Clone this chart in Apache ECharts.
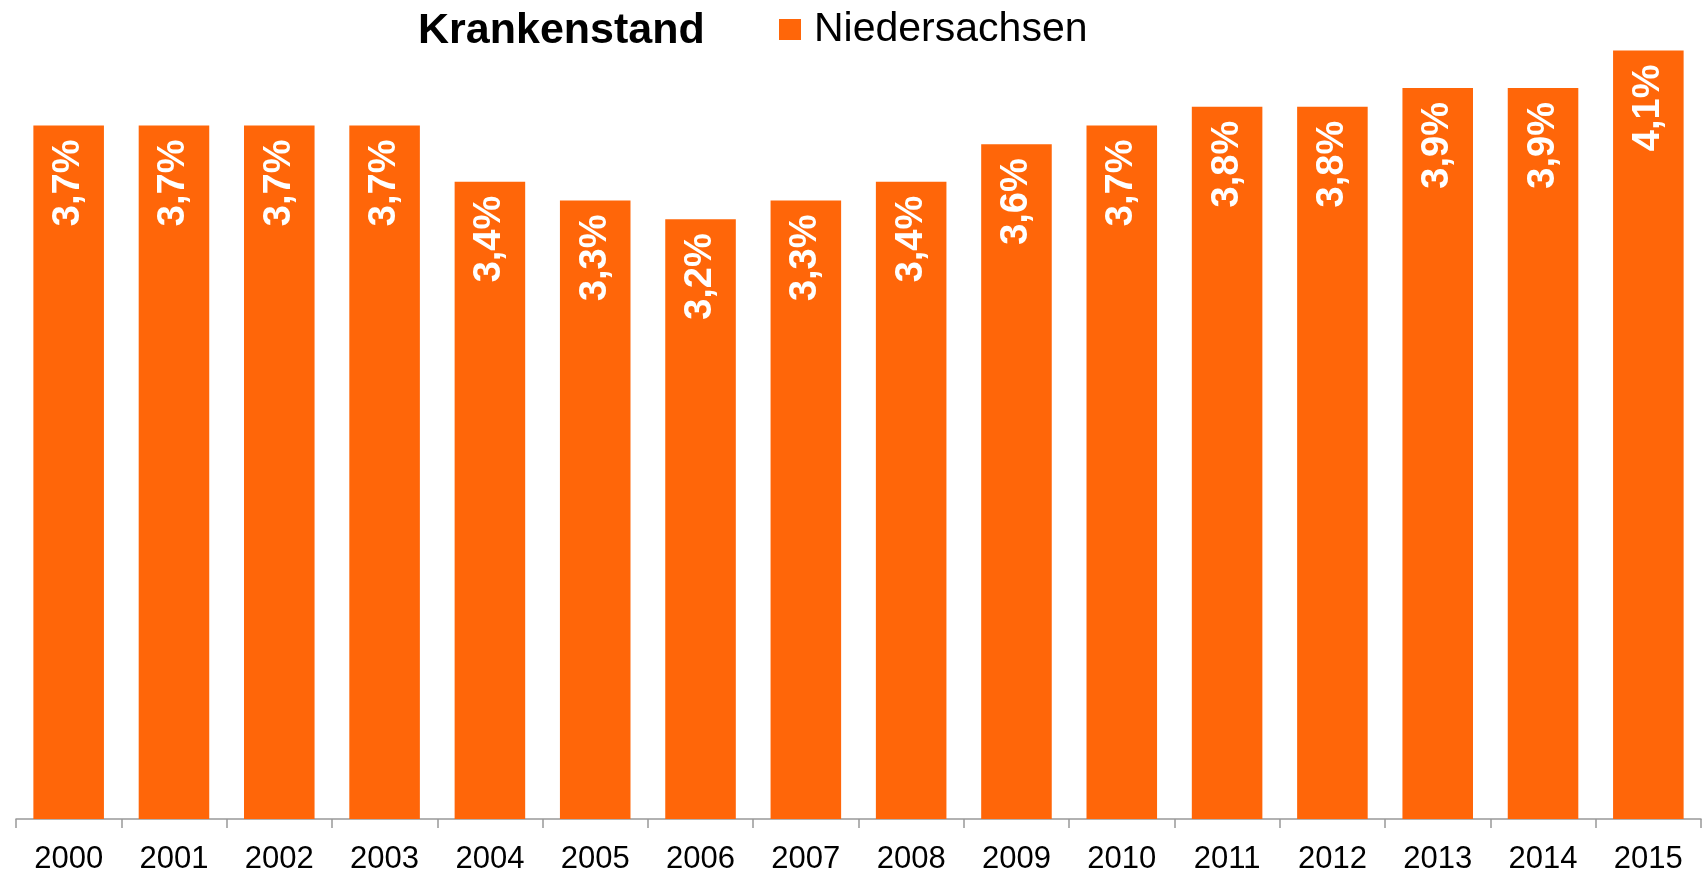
<!DOCTYPE html>
<html><head><meta charset="utf-8">
<script src="https://cdn.jsdelivr.net/npm/echarts@6/dist/echarts.min.js"></script>
<style>html,body{margin:0;padding:0;background:#fff}#c{width:1703px;height:875px}</style>
</head><body><div id="c"></div>
<script>
const years = ['2000','2001','2002','2003','2004','2005','2006','2007','2008','2009','2010','2011','2012','2013','2014','2015'];
const niedersachsen = [3.7,3.7,3.7,3.7,3.4,3.3,3.2,3.3,3.4,3.6,3.7,3.8,3.8,3.9,3.9,4.1];
const titleText = 'Krankenstand';
const seriesName = 'Niedersachsen';

const chart = echarts.init(document.getElementById('c'));
chart.setOption({
  animation: false,
  title: {
    text: titleText, left: 418, top: 9.5, padding: 0,
    textStyle: {fontFamily: 'Liberation Sans, Arial', fontWeight: 'bold', fontSize: 43, color: '#000'}
  },
  legend: {
    data: [seriesName], left: 779, top: 9, padding: 0, icon: 'rect', itemWidth: 22, itemHeight: 21,
    textStyle: {fontFamily: 'Liberation Sans, Arial', fontSize: 41, color: '#000', padding: [0,0,0,8]}
  },
  grid: {left: 16, right: 2, top: 31.8, bottom: 54, containLabel: false},
  xAxis: {
    type: 'category', data: years,
    axisLine: {show: true, lineStyle: {color: '#999', width: 1.5}},
    axisTick: {show: true, inside: false, length: 9, lineStyle: {color: '#999', width: 1.5}},
    axisLabel: {fontFamily: 'Liberation Sans, Arial', fontSize: 31, color: '#000', margin: 25}
  },
  yAxis: {type: 'value', min: 0, max: 4.2, show: false, splitLine: {show: false}},
  series: [{
    name: seriesName, type: 'bar', data: niedersachsen, barCategoryGap: '33%',
    itemStyle: {color: '#FF6609'},
    label: {
      show: true, position: 'insideTop', rotate: 90, align: 'right', verticalAlign: 'middle', distance: 14,
      fontFamily: 'Liberation Sans, Arial', fontWeight: 'bold', fontSize: 38, color: '#fff',
      formatter: p => p.value.toFixed(1).replace('.', ',') + '%'
    }
  }]
});
</script></body></html>
